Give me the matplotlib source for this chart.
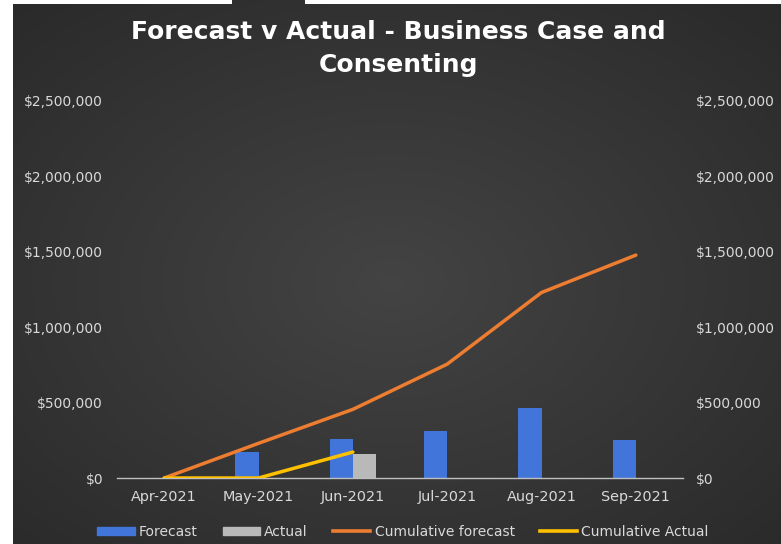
import numpy as np
import matplotlib
matplotlib.use('Agg')
import matplotlib.pyplot as plt
from matplotlib.patches import Patch, Rectangle
from matplotlib.lines import Line2D
from matplotlib.ticker import FuncFormatter, MultipleLocator

months = ['Apr-2021', 'May-2021', 'Jun-2021', 'Jul-2021', 'Aug-2021', 'Sep-2021']
forecast = [0, 172000, 259000, 312000, 464000, 252000]
actual = [0, 0, 159000, 0, 0, 0]
cum_forecast = [0, 230000, 455000, 755000, 1230000, 1478000]
cum_actual = [0, 0, 172000]

BLUE = '#4275da'
GREY = '#b9b9b9'
ORANGE = '#ed7d31'
YELLOW = '#ffc000'
TXT = '#d9d9d9'

W, H = 781, 544
fig = plt.figure(figsize=(W / 100, H / 100), dpi=100)

# dark radial background
bg = fig.add_axes([0, 0, 1, 1], zorder=-10)
yy, xx = np.mgrid[0:H, 0:W]
r = np.hypot((xx - W * 0.5) / (W * 0.6), (yy - H * 0.52) / (H * 0.6))
shade = np.clip(0.265 - 0.085 * r, 0, 1)
bg.imshow(np.dstack([shade] * 3), extent=[0, W, H, 0], aspect='auto', interpolation='bilinear')
bg.add_patch(Rectangle((0, 0), 13, H, color='white', lw=0))
bg.add_patch(Rectangle((0, 0), 232, 4, color='white', lw=0))
bg.add_patch(Rectangle((305, 0), W - 305, 4, color='white', lw=0))
bg.set_xlim(0, W)
bg.set_ylim(H, 0)
bg.axis('off')

ax = fig.add_axes([117 / W, 66 / H, 566 / W, 377 / H])
ax.set_facecolor('none')
x = np.arange(len(months))
bw = 0.245
ax.bar(x - bw / 2, forecast, bw, color=BLUE, zorder=2)
ax.bar(x + bw / 2, actual, bw, color=GREY, zorder=2)
ax.plot(x, cum_forecast, color=ORANGE, lw=2.5, solid_capstyle='round', zorder=3)
ax.plot(np.arange(len(cum_actual)), cum_actual, color=YELLOW, lw=2.5,
        solid_capstyle='round', zorder=4)

money = FuncFormatter(lambda v, p: '${:,.0f}'.format(v))
ax.set_xlim(-0.5, 5.5)
ax.set_ylim(0, 2500000)
ax.yaxis.set_major_locator(MultipleLocator(500000))
ax.yaxis.set_major_formatter(money)
ax.set_xticks(x)
ax.set_xticklabels(months)
ax.tick_params(axis='y', length=0, pad=10, labelsize=10, labelcolor=TXT)
ax.tick_params(axis='x', length=0, pad=9, labelsize=10.4, labelcolor=TXT)
for s in ['top', 'left', 'right']:
    ax.spines[s].set_visible(False)
ax.spines['bottom'].set_color('#bfbfbf')
ax.spines['bottom'].set_linewidth(1.0)

ax2 = ax.twinx()
ax2.set_ylim(0, 2500000)
ax2.yaxis.set_major_locator(MultipleLocator(500000))
ax2.yaxis.set_major_formatter(money)
ax2.tick_params(axis='y', length=0, pad=9.5, labelsize=10, labelcolor=TXT)
for s in ax2.spines.values():
    s.set_visible(False)

fig.text(0.51, 1 - 32 / H, 'Forecast v Actual - Business Case and', ha='center', va='center',
         fontsize=18, fontweight='bold', color='white')
fig.text(0.51, 1 - 65 / H, 'Consenting', ha='center', va='center',
         fontsize=18, fontweight='bold', color='white')

handles = [Patch(color=BLUE), Patch(color=GREY),
           Line2D([], [], color=ORANGE, lw=2.6), Line2D([], [], color=YELLOW, lw=2.6)]
labels = ['Forecast', 'Actual', 'Cumulative forecast', 'Cumulative Actual']
fig.legend(handles, labels, loc='center', bbox_to_anchor=(0.516, 1 - 532 / H), ncol=4,
           frameon=False, fontsize=10, labelcolor=TXT, handlelength=2.7, handleheight=0.55,
           handletextpad=0.3, columnspacing=1.8)

fig.savefig('out.png', dpi=100)
